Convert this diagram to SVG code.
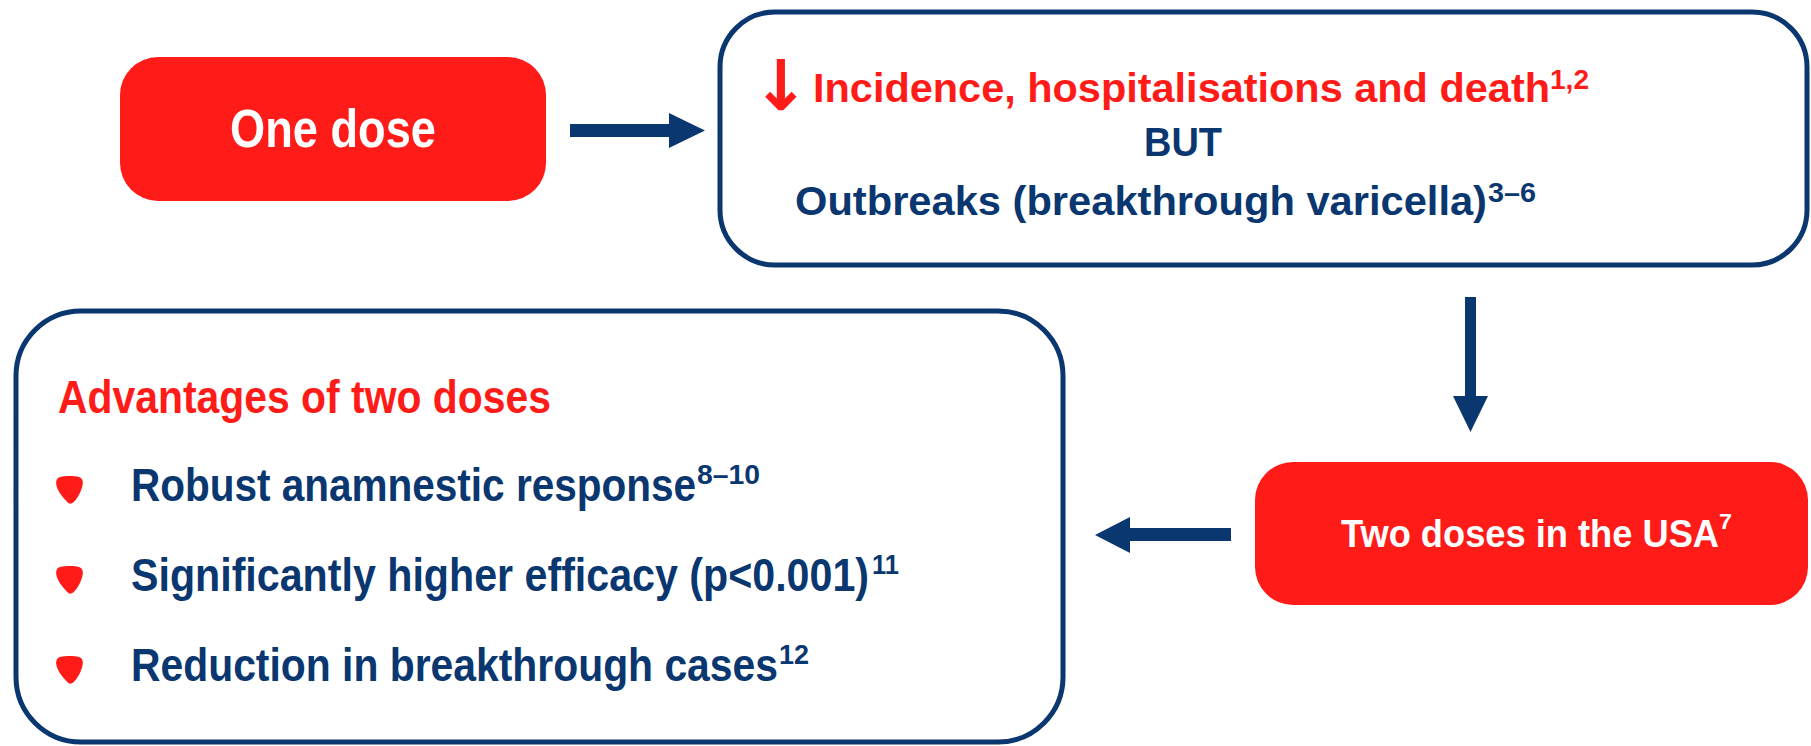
<svg xmlns="http://www.w3.org/2000/svg" width="1811" height="746" viewBox="0 0 1811 746">
<style>
.t{font-family:"Liberation Sans",Arial,sans-serif;font-weight:bold}
.arr{font-family:"DejaVu Sans","Liberation Sans",sans-serif;font-weight:bold}
.red{fill:#FE1B18}
.navy{fill:#0A376F}
.white{fill:#FFFFFF}
.box{fill:#FFFFFF;stroke:#0A376F;stroke-width:5}
.fillbox{fill:#FE1B18}
.conn{fill:#0A376F}
</style>
<defs>
<path id="bullet" d="M4,1 C10,-0.3 18,-0.3 23,1 C26.5,2 27.5,5.5 26.5,9.5 C25,16 21.5,22.5 17.5,26.3 C15.5,28.2 13,28 11.5,26.3 C6.5,21 2,15.5 0.6,10 C-0.6,5.5 0.8,1.8 4,1 Z" fill="#FE1B18"/>
</defs>
<rect width="1811" height="746" fill="#FFFFFF"/>

<g id="one-dose">
<rect class="fillbox" x="120" y="57" width="426" height="144" rx="38" ry="38"/>
<text class="t white" x="230" y="147" font-size="53" textLength="206" lengthAdjust="spacingAndGlyphs">One dose</text>
</g>

<g id="one-dose-outcome">
<rect class="box" x="720" y="12" width="1087" height="253" rx="55" ry="55"/>
<text class="arr red" x="752" y="110" font-size="70" textLength="58" lengthAdjust="spacingAndGlyphs">↓</text>
<text class="t red" x="813" y="102" font-size="40" textLength="737" lengthAdjust="spacingAndGlyphs">Incidence, hospitalisations and death</text>
<text class="t red" x="1550" y="89" font-size="27" textLength="39" lengthAdjust="spacingAndGlyphs">1,2</text>
<text class="t navy" x="1144" y="156" font-size="40" textLength="78" lengthAdjust="spacingAndGlyphs">BUT</text>
<text class="t navy" x="795" y="215" font-size="40" textLength="692" lengthAdjust="spacingAndGlyphs">Outbreaks (breakthrough varicella)</text>
<text class="t navy" x="1488" y="202" font-size="27" textLength="48" lengthAdjust="spacingAndGlyphs">3–6</text>
</g>

<g id="two-doses-usa">
<rect class="fillbox" x="1255" y="462" width="553" height="143" rx="38" ry="38"/>
<text class="t white" x="1341" y="547" font-size="39" textLength="378" lengthAdjust="spacingAndGlyphs">Two doses in the USA</text>
<text class="t white" x="1719" y="529" font-size="22" textLength="13" lengthAdjust="spacingAndGlyphs">7</text>
</g>

<g id="advantages">
<rect class="box" x="16" y="311" width="1047" height="431" rx="65" ry="65"/>
<text class="t red" x="58" y="413" font-size="47" textLength="493" lengthAdjust="spacingAndGlyphs">Advantages of two doses</text>
<use href="#bullet" x="56" y="476"/>
<text class="t navy" x="131" y="501" font-size="47" textLength="565" lengthAdjust="spacingAndGlyphs">Robust anamnestic response</text>
<text class="t navy" x="697" y="484" font-size="28" textLength="63" lengthAdjust="spacingAndGlyphs">8–10</text>
<use href="#bullet" x="56" y="566"/>
<text class="t navy" x="131" y="591" font-size="47" textLength="738" lengthAdjust="spacingAndGlyphs">Significantly higher efficacy (p&lt;0.001)</text>
<text class="t navy" x="872" y="574" font-size="28" textLength="27" lengthAdjust="spacingAndGlyphs">11</text>
<use href="#bullet" x="56" y="656"/>
<text class="t navy" x="131" y="681" font-size="47" textLength="647" lengthAdjust="spacingAndGlyphs">Reduction in breakthrough cases</text>
<text class="t navy" x="779" y="664" font-size="28" textLength="30" lengthAdjust="spacingAndGlyphs">12</text>
</g>

<g id="connectors">
<polygon class="conn" points="570,124 669,124 669,113 705,130.5 669,148 669,137 570,137"/>
<polygon class="conn" points="1465,297 1476,297 1476,396 1488,396 1470.5,432 1453,396 1465,396"/>
<polygon class="conn" points="1231,528 1130,528 1130,517 1095,535 1130,553 1130,541 1231,541"/>
</g>
</svg>
